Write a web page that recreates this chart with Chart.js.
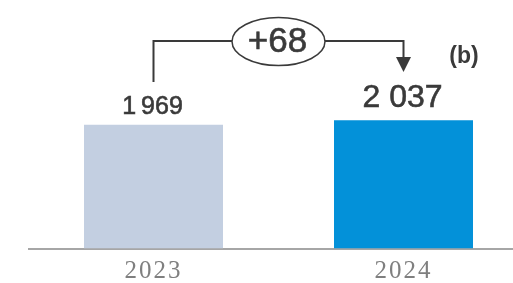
<!DOCTYPE html>
<html>
<head>
<meta charset="utf-8">
<script src="https://cdn.jsdelivr.net/npm/chart.js@4"></script>
<style>
  html, body { margin: 0; padding: 0; background: #fff; overflow: hidden; }
  #wrap { width: 513px; height: 283px; overflow: hidden; }
</style>
</head>
<body>
<div id="wrap"><canvas id="barChart" width="530" height="283"></canvas></div>
<script>
const years = ['2023', '2024'];
const values = [1969, 2037];
const valueLabels = ['1\u2009969', '2 037'];
const noteLabel = '(b)';

const barColors = ['#c3cfe1', '#0391d9'];
const textColor = '#3a3a3a';

// slightly heavier text, like the original rendering
function heavyText(ctx, text, x, y) {
  ctx.fillText(text, x, y);
  ctx.lineWidth = 0.6;
  ctx.strokeText(text, x, y);
}

// bracket with the difference in an ellipse, value labels, note
const bridgePlugin = {
  id: 'bridge',
  beforeDraw(chart) {
    chart.ctx.letterSpacing = '2px';
  },
  beforeDatasetsDraw(chart) {
    chart.ctx.letterSpacing = '0px';
  },
  afterDraw(chart) {
    let ctx = chart.ctx;
    let bars = chart.getDatasetMeta(0).data;
    let x0 = bars[0].x, x1 = bars[1].x;
    let lineY = 41;
    ctx.save();
    ctx.letterSpacing = '0px';
    ctx.fillStyle = textColor;
    ctx.strokeStyle = textColor;

    // value labels
    ctx.textAlign = 'center';
    ctx.textBaseline = 'alphabetic';
    ctx.font = '25px "Liberation Sans", Arial, sans-serif';
    heavyText(ctx, valueLabels[0], x0 - 1, bars[0].y - 11);
    ctx.font = '32px "Liberation Sans", Arial, sans-serif';
    heavyText(ctx, valueLabels[1], x1 - 1, bars[1].y - 13);

    // bracket lines
    let cx = (x0 + x1) / 2;
    let rx = 46.5, ry = 24;
    ctx.lineWidth = 2;
    ctx.beginPath();
    ctx.moveTo(x0, 82);
    ctx.lineTo(x0, lineY);
    ctx.lineTo(cx - rx, lineY);
    ctx.moveTo(cx + rx, lineY);
    ctx.lineTo(x1, lineY);
    ctx.lineTo(x1, 58);
    ctx.stroke();
    // arrow head
    ctx.beginPath();
    ctx.moveTo(x1 - 7.5, 57);
    ctx.lineTo(x1 + 7.5, 57);
    ctx.lineTo(x1, 72);
    ctx.closePath();
    ctx.fill();

    // ellipse
    ctx.lineWidth = 1.5;
    ctx.beginPath();
    ctx.ellipse(cx, 41.5, rx, ry, 0, 0, Math.PI * 2);
    ctx.fillStyle = '#fff';
    ctx.fill();
    ctx.stroke();

    let diff = values[1] - values[0];
    ctx.fillStyle = textColor;
    ctx.font = '35px "Liberation Sans", Arial, sans-serif';
    heavyText(ctx, (diff >= 0 ? '+' : '') + diff, cx - 1, 52);

    // note
    ctx.font = 'bold 23px "Liberation Sans", Arial, sans-serif';
    ctx.textBaseline = 'middle';
    ctx.fillText(noteLabel, 464, 57);
    ctx.restore();
  },
};

let ctx = document.getElementById('barChart').getContext('2d');
let myChart = new Chart(ctx, {
  type: 'bar',
  data: {
    labels: years,
    datasets: [
      {
        data: values,
        backgroundColor: barColors,
        borderWidth: 0,
        barPercentage: 0.556,
        categoryPercentage: 1,
      },
    ],
  },
  options: {
    responsive: false,
    animation: false,
    devicePixelRatio: 1,
    layout: { padding: { left: 28.5, right: 1.5, top: 0, bottom: -12 } },
    plugins: { legend: { display: false }, tooltip: { enabled: false } },
    scales: {
      x: {
        grid: { display: false, drawTicks: false },
        border: { display: true, color: '#a6a6a6', width: 2 },
        ticks: {
          color: '#7f7f7f',
          padding: 12,
          font: { family: '"Liberation Serif", "Times New Roman", serif', size: 25, lineHeight: 0.9 },
        },
      },
      y: {
        display: false,
        min: 0,
        max: 3950,
      },
    },
  },
  plugins: [bridgePlugin],
});
</script>
</body>
</html>
